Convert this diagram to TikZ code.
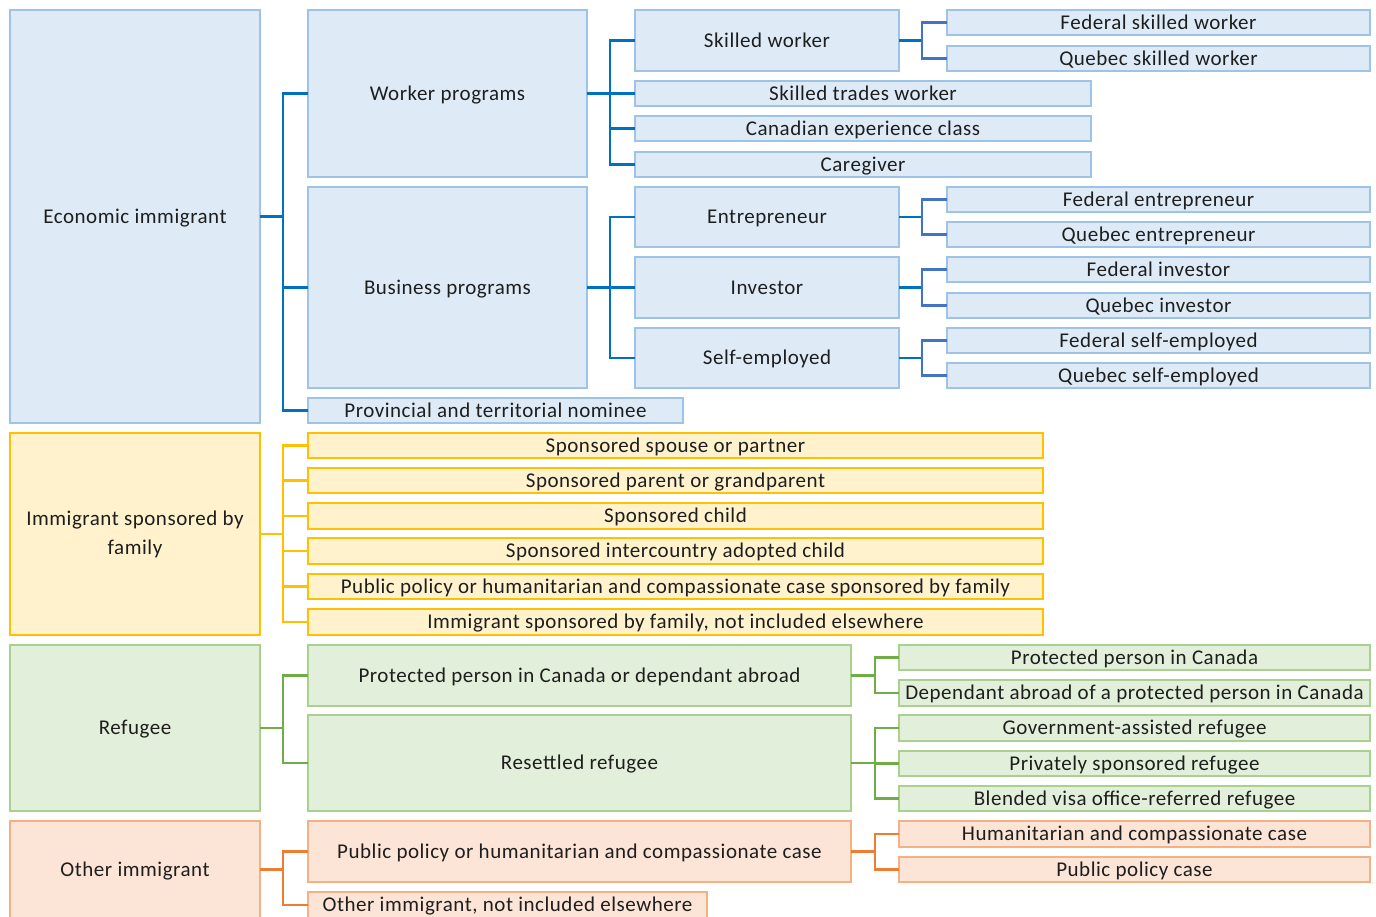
\documentclass[tikz,border=0pt]{standalone}
\usepackage{fontspec}
\setmainfont{Carlito}[LetterSpace=2.5]
\definecolor{bfill}{HTML}{DEEBF7}
\definecolor{bdraw}{HTML}{9DC3E6}
\definecolor{bline}{HTML}{0070C0}
\definecolor{bline2}{HTML}{4472C4}
\definecolor{yfill}{HTML}{FFF2CC}
\definecolor{ydraw}{HTML}{FFC000}
\definecolor{gfill}{HTML}{E2EFDA}
\definecolor{gdraw}{HTML}{A9D08E}
\definecolor{gline}{HTML}{70AD47}
\definecolor{ofill}{HTML}{FCE4D6}
\definecolor{odraw}{HTML}{F4B183}
\definecolor{oline}{HTML}{ED7D31}
\definecolor{txt}{HTML}{1E1E1E}
% \bx{style}{name}{x1}{y1}{x2}{y2}{text}
\newcommand\bx[7]{\node[#1, minimum width={(#5)-(#3)}, minimum height={(#6)-(#4)}] (#2) at ({((#3)+(#5))/2},{((#4)+(#6))/2}) {#7};}
\begin{document}
\begin{tikzpicture}[x=1pt,y=-1pt,
  box/.style={inner sep=0pt, outer sep=0pt, line width=1.5pt, font=\fontsize{21}{29}\selectfont, text=txt, text height=17pt, text depth=4pt},
  bbox/.style={box, draw=bdraw, fill=bfill},
  ybox/.style={box, draw=ydraw, fill=yfill},
  gbox/.style={box, draw=gdraw, fill=gfill},
  obox/.style={box, draw=odraw, fill=ofill},
  con/.style={line width=2.5pt},
  bcon/.style={con, draw=bline},
  bcontwo/.style={con, draw=bline2},
  ycon/.style={con, draw=ydraw},
  gcon/.style={con, draw=gline},
  ocon/.style={con, draw=oline}]
\useasboundingbox (0,0) rectangle (1376,916);
\clip (0,0) rectangle (1376,916);
\fill[white] (0,0) rectangle (1376,916);

% Column 1
\bx{bbox}{econ}{10}{10}{260}{423}{Economic immigrant}
\bx{ybox, align=center, text height=, text depth=}{fam}{10}{433}{260}{635}{Immigrant sponsored by\\family}
\bx{gbox}{ref}{10}{645}{260}{811}{Refugee}
\bx{obox}{oth}{10}{821}{260}{918}{Other immigrant}

% Economic column 2
\bx{bbox}{work}{308}{10}{587}{177}{Worker programs}
\bx{bbox}{bus}{308}{187}{587}{388}{Business programs}
\bx{bbox}{pnp}{308}{398}{683}{423}{Provincial and territorial nominee}

% Worker column 3
\bx{bbox}{sw}{635}{10}{899}{71}{Skilled worker}
\bx{bbox}{stw}{635}{81}{1091}{106}{Skilled trades worker}
\bx{bbox}{cec}{635}{116}{1091}{141}{Canadian experience class}
\bx{bbox}{care}{635}{152}{1091}{177}{Caregiver}

% Business column 3
\bx{bbox}{ent}{635}{187}{899}{247}{Entrepreneur}
\bx{bbox}{inv}{635}{257}{899}{318}{Investor}
\bx{bbox}{se}{635}{328}{899}{388}{Self-employed}

% Column 4
\bx{bbox}{fsw}{947}{10}{1370}{35}{Federal skilled worker}
\bx{bbox}{qsw}{947}{46}{1370}{71}{Quebec skilled worker}
\bx{bbox}{fent}{947}{187}{1370}{212}{Federal entrepreneur}
\bx{bbox}{qent}{947}{222}{1370}{247}{Quebec entrepreneur}
\bx{bbox}{finv}{947}{257}{1370}{282}{Federal investor}
\bx{bbox}{qinv}{947}{293}{1370}{318}{Quebec investor}
\bx{bbox}{fse}{947}{328}{1370}{353}{Federal self-employed}
\bx{bbox}{qse}{947}{363}{1370}{388}{Quebec self-employed}

% Family children
\bx{ybox}{f1}{308}{433}{1043}{458}{Sponsored spouse or partner}
\bx{ybox}{f2}{308}{468}{1043}{493}{Sponsored parent or grandparent}
\bx{ybox}{f3}{308}{503}{1043}{529}{Sponsored child}
\bx{ybox}{f4}{308}{538}{1043}{564}{Sponsored intercountry adopted child}
\bx{ybox}{f5}{308}{574}{1043}{599}{Public policy or humanitarian and compassionate case sponsored by family}
\bx{ybox}{f6}{308}{609}{1043}{635}{Immigrant sponsored by family, not included elsewhere}

% Refugee
\bx{gbox}{prot}{308}{645}{851}{706}{Protected person in Canada or dependant abroad}
\bx{gbox}{res}{308}{715}{851}{811}{Resettled refugee}
\bx{gbox}{r1}{899}{645}{1370}{670}{Protected person in Canada}
\bx{gbox}{r2}{899}{680}{1370}{706}{Dependant abroad of a protected person in Canada}
\bx{gbox}{r3}{899}{715}{1370}{741}{Government-assisted refugee}
\bx{gbox}{r4}{899}{751}{1370}{776}{Privately sponsored refugee}
\bx{gbox}{r5}{899}{786}{1370}{811}{Blended visa office-referred refugee}

% Other
\bx{obox}{pp}{308}{821}{851}{882}{Public policy or humanitarian and compassionate case}
\bx{obox}{onie}{308}{892}{707}{918}{Other immigrant, not included elsewhere}
\bx{obox}{hc}{899}{821}{1370}{847}{Humanitarian and compassionate case}
\bx{obox}{ppc}{899}{857}{1370}{882}{Public policy case}

% Connectors
\draw[bcon] (econ.east) -- ++(23,0) coordinate (e1);
\foreach \c in {work,bus,pnp} \draw[bcon] (e1) |- (\c.west);
\draw[bcon] (work.east) -- ++(23,0) coordinate (w1);
\foreach \c in {sw,stw,cec,care} \draw[bcon] (w1) |- (\c.west);
\draw[bcon] (bus.east) -- ++(23,0) coordinate (b1);
\foreach \c in {ent,inv,se} \draw[bcon] (b1) |- (\c.west);
\draw[bcon] (sw.east) -- ++(23,0) coordinate (s1);
\foreach \c in {fsw,qsw} \draw[bcontwo] (s1) |- (\c.west);
\draw[bcon] (ent.east) -- ++(23,0) coordinate (en1);
\foreach \c in {fent,qent} \draw[bcontwo] (en1) |- (\c.west);
\draw[bcon] (inv.east) -- ++(23,0) coordinate (i1);
\foreach \c in {finv,qinv} \draw[bcontwo] (i1) |- (\c.west);
\draw[bcon] (se.east) -- ++(23,0) coordinate (se1);
\foreach \c in {fse,qse} \draw[bcontwo] (se1) |- (\c.west);

\draw[ycon] (fam.east) -- ++(23,0) coordinate (fa1);
\foreach \c in {f1,f2,f3,f4,f5,f6} \draw[ycon] (fa1) |- (\c.west);

\draw[gcon] (ref.east) -- ++(23,0) coordinate (re1);
\foreach \c in {prot,res} \draw[gcon] (re1) |- (\c.west);
\draw[gcon] (prot.east) -- ++(24,0) coordinate (p1);
\foreach \c in {r1,r2} \draw[gcon] (p1) |- (\c.west);
\draw[gcon] (res.east) -- ++(24,0) coordinate (rs1);
\foreach \c in {r3,r4,r5} \draw[gcon] (rs1) |- (\c.west);

\draw[ocon] (oth.east) -- ++(23,0) coordinate (o1);
\foreach \c in {pp,onie} \draw[ocon] (o1) |- (\c.west);
\draw[ocon] (pp.east) -- ++(24,0) coordinate (pp1);
\foreach \c in {hc,ppc} \draw[ocon] (pp1) |- (\c.west);
\end{tikzpicture}
\end{document}
